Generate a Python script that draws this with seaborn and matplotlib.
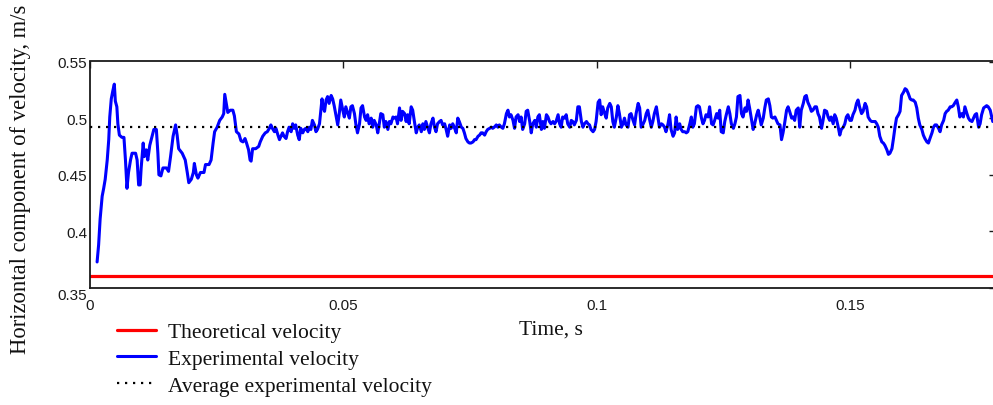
import matplotlib
matplotlib.use("Agg")
import matplotlib.pyplot as plt
import seaborn as sns
import pandas as pd
from matplotlib.lines import Line2D

# ---------------- data ----------------
time_a = [0.0014,0.0017,0.0020,0.0024,0.0027,0.0030,0.0034,0.0037,0.0039,0.0042,0.0045,0.0048,0.0050,0.0053,0.0055,
          0.0058,0.0063,0.0067,0.0070,0.0073,0.0076,0.0080,0.0083,0.0090,0.0093,0.0096,0.0099,0.0101,0.0105,0.0107,
          0.0111,0.0114,0.0118,0.0123,0.0126,0.0131,0.0134,0.0136,0.0140,0.0144,0.0151,0.0155,0.0159,0.0164,0.0169,
          0.0172,0.0175,0.0182,0.0188,0.0192,0.0195,0.0200,0.0204,0.0206,0.0210,0.0213,0.0218,0.0225,0.0228,0.0235,
          0.0239,0.0243,0.0246,0.0251,0.0256,0.0261,0.0264,0.0266,0.0269,0.0272,0.0277,0.0282,0.0285,0.0289,0.0294]
vel_a = [0.373,0.388,0.411,0.431,0.438,0.446,0.463,0.481,0.501,0.517,0.524,0.530,0.515,0.510,0.495,
         0.485,0.483,0.483,0.463,0.438,0.452,0.463,0.469,0.469,0.463,0.441,0.441,0.456,0.478,0.466,
         0.472,0.463,0.476,0.485,0.490,0.490,0.469,0.450,0.449,0.456,0.456,0.453,0.466,0.484,0.494,
         0.485,0.473,0.469,0.463,0.452,0.443,0.446,0.452,0.460,0.450,0.447,0.452,0.452,0.459,0.459,
         0.463,0.478,0.488,0.492,0.498,0.501,0.504,0.521,0.513,0.505,0.507,0.507,0.502,0.488,0.486]

time_b = [0.0298,0.0302,0.0306,0.0309,0.0313,0.0316,0.0318,0.0321,0.0327,0.0333,0.0336,0.0341,0.0346,0.0350,
          0.0354,0.0357,0.0360,0.0364,0.0367,0.0371,0.0374,0.0377,0.0380,0.0383,0.0387,0.0390,0.0393,0.0397,
          0.0400,0.0403,0.0406,0.0410,0.0413,0.0416,0.0420,0.0423,0.0426,0.0430,0.0433,0.0436,0.0439,0.0443,
          0.0446,0.0449,0.0453,0.0455,0.0458,0.0460,0.0463,0.0466,0.0469,0.0472,0.0476,0.0479,0.0482,0.0486,
          0.0489,0.0492,0.0495,0.0499,0.0502,0.0505,0.0509,0.0512,0.0515,0.0518,0.0522,0.0525,0.0528,0.0532,
          0.0535,0.0538,0.0542,0.0545,0.0548,0.0551,0.0555,0.0558,0.0561,0.0565,0.0568,0.0571,0.0574,0.0578,
          0.0581,0.0584,0.0588,0.0591,0.0594,0.0598]
vel_b = [0.480,0.479,0.482,0.478,0.472,0.463,0.462,0.473,0.473,0.475,0.479,0.484,0.487,0.488,
         0.491,0.494,0.491,0.488,0.491,0.485,0.481,0.484,0.487,0.484,0.482,0.488,0.492,0.488,
         0.495,0.491,0.494,0.485,0.481,0.491,0.487,0.490,0.491,0.488,0.492,0.490,0.498,0.494,
         0.488,0.490,0.495,0.504,0.517,0.510,0.506,0.516,0.519,0.513,0.520,0.517,0.511,0.501,
         0.494,0.504,0.516,0.507,0.501,0.510,0.504,0.500,0.510,0.511,0.504,0.494,0.487,0.495,
         0.509,0.511,0.501,0.498,0.503,0.495,0.500,0.492,0.498,0.494,0.487,0.495,0.504,0.503,
         0.492,0.497,0.490,0.497,0.495,0.501]

time_c = [0.0601,0.0604,0.0607,0.0611,0.0614,0.0617,0.0621,0.0624,0.0627,0.0630,0.0634,0.0637,0.0640,0.0644,
          0.0647,0.0650,0.0654,0.0657,0.0660,0.0663,0.0667,0.0670,0.0673,0.0677,0.0680,0.0683,0.0686,0.0690,
          0.0693,0.0696,0.0700,0.0703,0.0706,0.0710,0.0713,0.0716,0.0719,0.0723,0.0726,0.0729,0.0733,0.0736,
          0.0739,0.0742,0.0746,0.0749,0.0752,0.0756,0.0759,0.0762,0.0766,0.0769,0.0772,0.0775,0.0779,0.0782,
          0.0785,0.0789,0.0792,0.0795,0.0798,0.0802,0.0805,0.0808,0.0812,0.0815,0.0818,0.0822,0.0825,0.0828,
          0.0831,0.0835,0.0838,0.0841,0.0845,0.0848,0.0851,0.0854,0.0858,0.0861,0.0864,0.0868,0.0871,0.0874,
          0.0878,0.0881,0.0884,0.0887,0.0891,0.0894,0.0897,0.0901,0.0904,0.0907,0.0910,0.0914]
vel_c = [0.500,0.501,0.495,0.509,0.498,0.506,0.504,0.497,0.503,0.495,0.510,0.507,0.498,0.487,
         0.492,0.494,0.488,0.495,0.490,0.497,0.491,0.487,0.495,0.500,0.492,0.488,0.495,0.497,
         0.498,0.494,0.495,0.490,0.484,0.494,0.491,0.495,0.492,0.487,0.500,0.497,0.492,0.491,
         0.487,0.482,0.479,0.478,0.478,0.479,0.481,0.481,0.484,0.485,0.487,0.487,0.485,0.488,
         0.490,0.491,0.492,0.491,0.492,0.494,0.492,0.494,0.492,0.491,0.495,0.504,0.507,0.501,
         0.503,0.498,0.491,0.501,0.503,0.497,0.501,0.490,0.495,0.506,0.507,0.497,0.487,0.495,
         0.498,0.492,0.501,0.503,0.490,0.497,0.491,0.503,0.501,0.497,0.495,0.497]

time_d = [0.0917,0.0920,0.0924,0.0927,0.0930,0.0933,0.0937,0.0940,0.0943,0.0947,0.0950,0.0953,0.0956,0.0960,
          0.0963,0.0966,0.0970,0.0973,0.0976,0.0980,0.0983,0.0986,0.0989,0.0993,0.0996,0.0999,0.1003,0.1006,
          0.1009,0.1012,0.1016,0.1019,0.1022,0.1026,0.1029,0.1032,0.1035,0.1039,0.1042,0.1045,0.1049,0.1052,
          0.1055,0.1058,0.1062,0.1065,0.1068,0.1072,0.1075,0.1078,0.1082,0.1085,0.1088,0.1091,0.1095,0.1098,
          0.1101,0.1105,0.1108,0.1111,0.1114,0.1118,0.1121,0.1124,0.1128,0.1131,0.1134,0.1137,0.1141,0.1144,
          0.1147,0.1151,0.1154,0.1157,0.1160,0.1164,0.1167,0.1170,0.1174,0.1177,0.1180,0.1184,0.1187,0.1190,
          0.1193,0.1197,0.1200,0.1203,0.1207,0.1210,0.1213,0.1216,0.1220]
vel_d = [0.495,0.497,0.503,0.495,0.492,0.501,0.500,0.503,0.495,0.492,0.498,0.497,0.494,0.498,
         0.510,0.510,0.497,0.492,0.495,0.497,0.495,0.494,0.490,0.488,0.490,0.497,0.514,0.516,
         0.503,0.510,0.504,0.500,0.509,0.513,0.510,0.497,0.492,0.501,0.511,0.504,0.492,0.495,
         0.500,0.494,0.492,0.503,0.504,0.498,0.494,0.504,0.513,0.509,0.492,0.494,0.498,0.504,
         0.507,0.498,0.492,0.497,0.504,0.510,0.501,0.492,0.495,0.494,0.492,0.488,0.495,0.503,
         0.490,0.484,0.487,0.501,0.490,0.495,0.490,0.488,0.488,0.487,0.488,0.495,0.501,0.492,
         0.495,0.510,0.511,0.510,0.500,0.495,0.498,0.503,0.501]

time_e = [0.1223,0.1227,0.1230,0.1233,0.1237,0.1240,0.1243,0.1246,0.1250,0.1253,0.1256,0.1260,0.1263,0.1266,
          0.1270,0.1273,0.1276,0.1279,0.1283,0.1286,0.1289,0.1293,0.1296,0.1299,0.1302,0.1306,0.1309,0.1312,
          0.1316,0.1319,0.1322,0.1325,0.1329,0.1332,0.1335,0.1339,0.1342,0.1345,0.1348,0.1352,0.1355,0.1358,
          0.1362,0.1365,0.1368,0.1371,0.1375,0.1378,0.1381,0.1385,0.1388,0.1391,0.1394,0.1398,0.1401,0.1404,
          0.1408,0.1411,0.1414,0.1417,0.1421,0.1424,0.1427,0.1431,0.1434,0.1437,0.1440,0.1444,0.1447,0.1450,
          0.1454,0.1457,0.1460,0.1463,0.1467,0.1470,0.1473,0.1477,0.1480,0.1483,0.1487,0.1490,0.1493,0.1496,
          0.1500,0.1503,0.1506,0.1510,0.1513,0.1516,0.1519,0.1523,0.1526]
vel_e = [0.510,0.495,0.494,0.498,0.504,0.500,0.507,0.488,0.487,0.497,0.503,0.510,0.504,0.495,
         0.491,0.495,0.501,0.519,0.520,0.504,0.501,0.509,0.506,0.516,0.509,0.498,0.490,0.495,
         0.503,0.507,0.501,0.494,0.500,0.509,0.516,0.517,0.511,0.501,0.500,0.501,0.498,0.495,
         0.494,0.481,0.487,0.495,0.507,0.510,0.506,0.500,0.501,0.498,0.507,0.509,0.492,0.507,
         0.513,0.519,0.520,0.514,0.510,0.506,0.507,0.510,0.510,0.504,0.501,0.491,0.498,0.507,
         0.506,0.501,0.498,0.501,0.495,0.503,0.500,0.492,0.485,0.490,0.492,0.495,0.501,0.503,
         0.498,0.498,0.503,0.507,0.513,0.516,0.510,0.504,0.506]

time_f = [0.1530,0.1533,0.1536,0.1540,0.1543,0.1546,0.1550,0.1553,0.1556,0.1559,0.1563,0.1566,0.1569,0.1573,
          0.1576,0.1579,0.1583,0.1586,0.1589,0.1592,0.1596,0.1599,0.1602,0.1606,0.1609,0.1612,0.1615,0.1619,
          0.1622,0.1625,0.1629,0.1632,0.1635,0.1638,0.1642,0.1645,0.1648,0.1652,0.1655,0.1658,0.1662,0.1665,
          0.1668,0.1671,0.1675,0.1678,0.1681,0.1685,0.1688,0.1691,0.1694,0.1698,0.1701,0.1704,0.1708,0.1711,
          0.1714,0.1717,0.1721,0.1724,0.1727,0.1731,0.1734,0.1737,0.1741,0.1744,0.1747,0.1750,0.1754,0.1757,
          0.1760,0.1764,0.1767,0.1770,0.1773,0.1777,0.1780,0.1782]
vel_f = [0.513,0.510,0.501,0.498,0.497,0.497,0.497,0.495,0.492,0.484,0.479,0.478,0.476,0.472,
         0.468,0.469,0.473,0.482,0.492,0.500,0.503,0.506,0.520,0.523,0.526,0.525,0.522,0.517,
         0.516,0.516,0.514,0.509,0.500,0.494,0.490,0.485,0.482,0.479,0.478,0.482,0.487,0.492,
         0.494,0.494,0.491,0.488,0.494,0.498,0.504,0.506,0.507,0.510,0.510,0.511,0.514,0.516,
         0.510,0.501,0.504,0.501,0.510,0.504,0.500,0.498,0.497,0.500,0.503,0.504,0.492,0.495,
         0.503,0.509,0.510,0.511,0.510,0.507,0.501,0.497]

theoretical_velocity = 0.3605
average_velocity = 0.492

x_ticks = [0, 0.05, 0.1, 0.15]
x_tick_labels = ["0", "0.05", "0.1", "0.15"]
y_ticks = [0.35, 0.4, 0.45, 0.5, 0.55]
y_tick_labels = ["0.35", "0.4", "0.45", "0.5", "0.55"]

labels = ["Theoretical velocity", "Experimental velocity", "Average experimental velocity"]
x_label = "Time, s"
y_label = "Horizontal component of velocity, m/s"

# ---------------- plotting ----------------
sns.set_theme(style="white")
plt.rcParams["font.family"] = ["Liberation Serif", "DejaVu Serif"]

df = pd.DataFrame({"time": time_a + time_b + time_c + time_d + time_e + time_f,
                   "velocity": vel_a + vel_b + vel_c + vel_d + vel_e + vel_f})

W, H = 993, 406
fig = plt.figure(figsize=(W / 100, H / 100), dpi=100)
x0, x1, ytop, ybot = 90, 996, 62.5, 289
ax = fig.add_axes([x0 / W, (H - ybot) / H, (x1 - x0) / W, (ybot - ytop) / H])

red = "#ff0000"
blue = "#0000ff"

ax.axhline(theoretical_velocity, color=red, lw=2.3, zorder=2)
sns.lineplot(data=df, x="time", y="velocity", ax=ax, color=blue, lw=2.2,
             estimator=None, sort=False, zorder=3, legend=False)
ax.axhline(average_velocity, color="black", lw=1.6, ls=(0, (1, 2.6)), zorder=4)

ax.set_xlim(0, (x1 - x0) / 5066)
ax.set_ylim(0.35, 0.55)
ax.set_xticks(x_ticks)
ax.set_xticklabels(x_tick_labels)
ax.set_yticks(y_ticks)
ax.set_yticklabels(y_tick_labels)
ax.set_xlabel("")
ax.set_ylabel("")

for side in ["left", "bottom", "top", "right"]:
    ax.spines[side].set_visible(True)
    ax.spines[side].set_color("#1a1a1a")
    ax.spines[side].set_linewidth(1.3)

ax.tick_params(axis="both", direction="in", length=5, width=1.0, color="#1a1a1a",
               top=True, right=True, labelsize=11, labelcolor="#1a1a1a")
ax.tick_params(axis="x", pad=7)
ax.tick_params(axis="y", pad=2)
for lab in ax.get_xticklabels() + ax.get_yticklabels():
    lab.set_family(["Liberation Sans", "DejaVu Sans"])
ax.get_yticklabels()[0].set_va("top")

fig.text(21 / W, 1 - 179 / H, y_label, rotation=90, ha="center", va="center",
         fontsize=16.3, color="#111111")
fig.text(551 / W, 1 - 330 / H, x_label, ha="center", va="center",
         fontsize=15.5, color="#111111")

handles = [Line2D([], [], color=red, lw=2.3),
           Line2D([], [], color=blue, lw=2.2),
           Line2D([], [], color="black", lw=1.6, ls=(0, (1, 2.6)))]
fig.legend(handles, labels, loc="upper left", bbox_to_anchor=(117 / W, 1 - 323 / H),
           frameon=False, fontsize=15.5, handlelength=1.8, handletextpad=0.55,
           labelspacing=0.31, borderpad=0, borderaxespad=0, labelcolor="#111111")

fig.savefig("out.png", dpi=100)
